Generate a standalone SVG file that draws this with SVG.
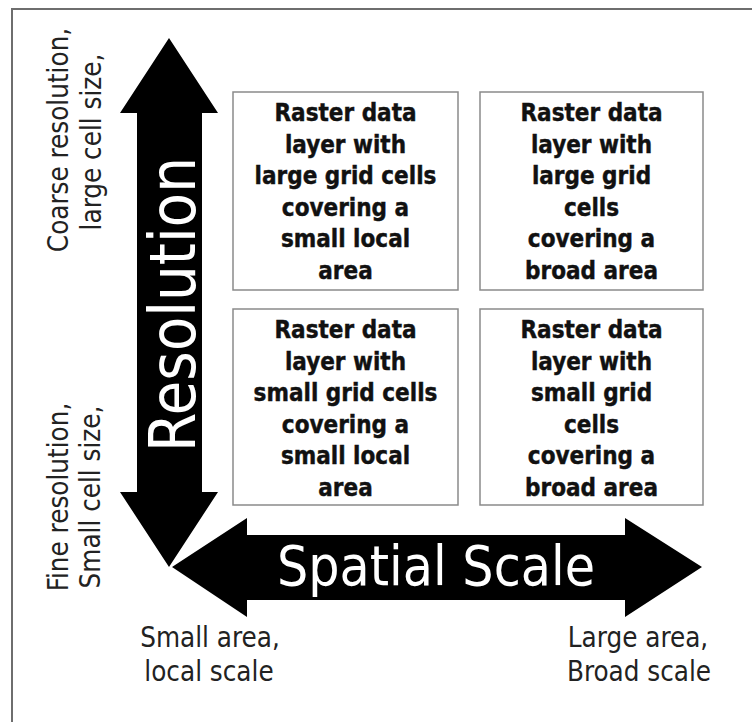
<svg xmlns="http://www.w3.org/2000/svg" width="752" height="722" viewBox="0 0 752 722">
<style>
.box{fill:#fff;stroke:#8a8a8a;stroke-width:1.5}
.bt{font-family:"DejaVu Sans Condensed","DejaVu Sans",sans-serif;font-weight:bold;font-size:24px;fill:#111;stroke:#111;stroke-width:0.4;text-anchor:middle}
.lbl{font-family:"DejaVu Sans Condensed","DejaVu Sans",sans-serif;font-size:27.5px;fill:#222;text-anchor:middle}
.big{font-family:"DejaVu Sans Condensed","DejaVu Sans",sans-serif;fill:#fff;text-anchor:middle}
.arr{fill:#000}
</style>
<rect x="0" y="0" width="752" height="722" fill="#fff"/>
<path d="M12,722 V9 H752" fill="none" stroke="#6e6e6e" stroke-width="2"/>
<g id="connectors">
<g id="resolution-arrow">
<polygon class="arr" points="169,38 218,113 202,113 202,492 218,492 169,567 120,492 137,492 137,113 120,113"/>
<text class="big" font-size="64" transform="translate(195,304.5) rotate(-90)" textLength="295" lengthAdjust="spacingAndGlyphs">Resolution</text>
</g>
<g id="scale-arrow">
<polygon class="arr" points="172,567 247,518 247,535 625,535 625,518 702,567 625,617 625,600 247,600 247,617"/>
<text class="big" font-size="55" x="436" y="585" textLength="318" lengthAdjust="spacingAndGlyphs">Spatial Scale</text>
</g>
</g>
<g id="box-large-local">
<rect class="box" x="233" y="92" width="225" height="198"/>
<text class="bt" x="345.5" y="121">Raster data</text>
<text class="bt" x="345.5" y="152.5">layer with</text>
<text class="bt" x="345.5" y="184">large grid cells</text>
<text class="bt" x="345.5" y="215.5">covering a</text>
<text class="bt" x="345.5" y="247">small local</text>
<text class="bt" x="345.5" y="278.5">area</text>
</g>
<g id="box-large-broad">
<rect class="box" x="480" y="92" width="223" height="198"/>
<text class="bt" x="591.5" y="121">Raster data</text>
<text class="bt" x="591.5" y="152.5">layer with</text>
<text class="bt" x="591.5" y="184">large grid</text>
<text class="bt" x="591.5" y="215.5">cells</text>
<text class="bt" x="591.5" y="247">covering a</text>
<text class="bt" x="591.5" y="278.5">broad area</text>
</g>
<g id="box-small-local">
<rect class="box" x="233" y="309" width="225" height="196"/>
<text class="bt" x="345.5" y="338">Raster data</text>
<text class="bt" x="345.5" y="369.5">layer with</text>
<text class="bt" x="345.5" y="401">small grid cells</text>
<text class="bt" x="345.5" y="432.5">covering a</text>
<text class="bt" x="345.5" y="464">small local</text>
<text class="bt" x="345.5" y="495.5">area</text>
</g>
<g id="box-small-broad">
<rect class="box" x="480" y="309" width="223" height="196"/>
<text class="bt" x="591.5" y="338">Raster data</text>
<text class="bt" x="591.5" y="369.5">layer with</text>
<text class="bt" x="591.5" y="401">small grid</text>
<text class="bt" x="591.5" y="432.5">cells</text>
<text class="bt" x="591.5" y="464">covering a</text>
<text class="bt" x="591.5" y="495.5">broad area</text>
</g>
<g id="label-coarse">
<text class="lbl" transform="translate(68,140) rotate(-90)">Coarse resolution,</text>
<text class="lbl" transform="translate(101,142) rotate(-90)">large cell size,</text>
</g>
<g id="label-fine">
<text class="lbl" transform="translate(68,497) rotate(-90)">Fine resolution,</text>
<text class="lbl" transform="translate(100,497) rotate(-90)">Small cell size,</text>
</g>
<g id="label-small-area">
<text class="lbl" x="210" y="647">Small area,</text>
<text class="lbl" x="209" y="681">local scale</text>
</g>
<g id="label-large-area">
<text class="lbl" x="638" y="647">Large area,</text>
<text class="lbl" x="639" y="681">Broad scale</text>
</g>
</svg>
